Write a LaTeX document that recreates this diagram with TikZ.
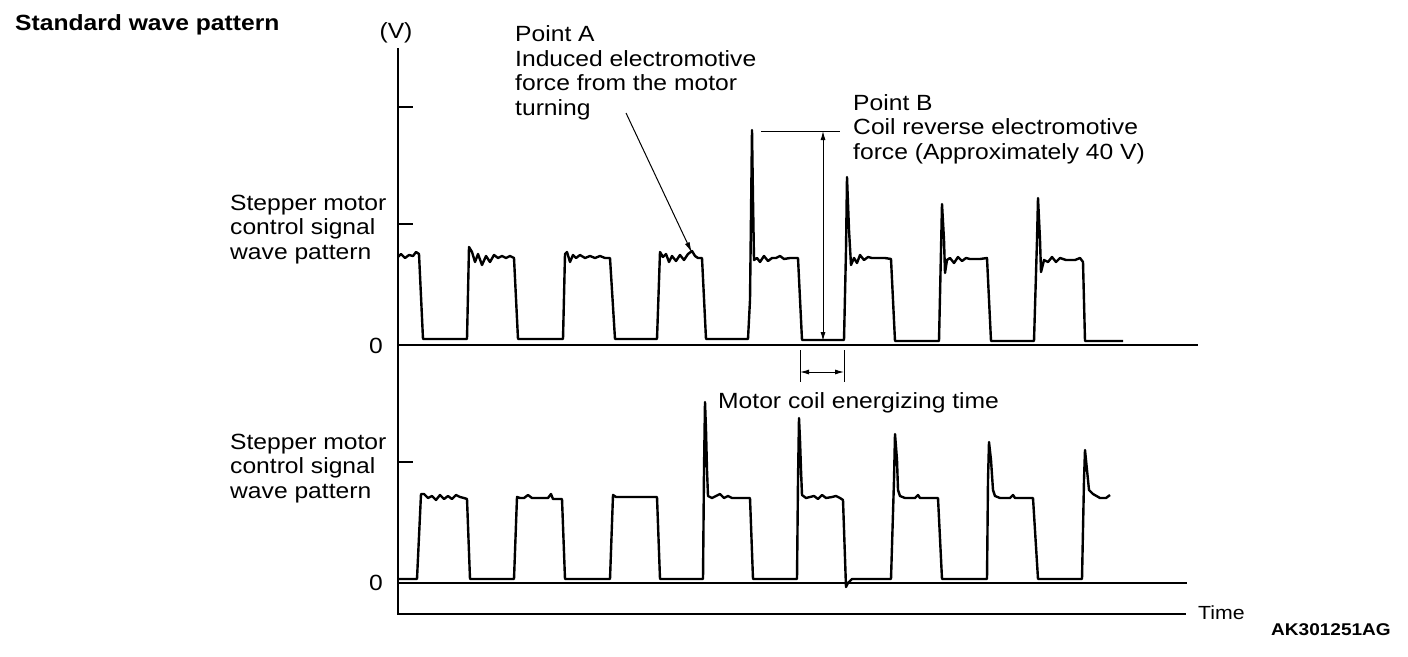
\documentclass[tikz,border=0pt]{standalone}
\usepackage{fontspec}
\setmainfont[FakeStretch=1.12]{Liberation Sans}
\usetikzlibrary{arrows.meta}
\begin{document}
\begin{tikzpicture}[x=1pt,y=-1pt,
  lbl/.style={inner sep=0pt,anchor=base west,align=left,font=\fontsize{22}{24.7}\selectfont},
  wave/.style={line width=2.4pt,line join=round},
  axis/.style={line width=2pt},
  thin/.style={line width=1pt},
  tip/.style={line width=1pt,{Latex[length=9pt,width=5pt]}-{Latex[length=9pt,width=5pt]}},
  onetip/.style={line width=1pt,-{Latex[length=11pt,width=5pt]}}]
\useasboundingbox (0,0) rectangle (1408,656);
\fill[white] (0,0) rectangle (1408,656);
% titles (base anchor = baseline of the last line)
\node[lbl,font=\bfseries\fontsize{22}{24.7}\selectfont] (title) at (15,30.5) {Standard wave pattern};
\node[inner sep=0pt,anchor=base,font=\fontsize{22}{24.7}\selectfont] (volt) at (396,38) {(V)};
\node[lbl] (lab1) at (230,259.4) {Stepper motor\\control signal\\wave pattern};
\node[lbl] (lab2) at (230,498.4) {Stepper motor\\control signal\\wave pattern};
\node[inner sep=0pt,anchor=base,font=\fontsize{22}{24.7}\selectfont] (zero1) at (376,353) {0};
\node[inner sep=0pt,anchor=base,font=\fontsize{22}{24.7}\selectfont] (zero2) at (376,590) {0};
\node[lbl] (pa) at (515,115.6) {Point A\\Induced electromotive\\force from the motor\\turning};
\node[lbl] (pb) at (853,159.4) {Point B\\Coil reverse electromotive\\force (Approximately 40 V)};
\node[lbl] (mc) at (718,408) {Motor coil energizing time};
\node[lbl,font=\fontsize{19}{20}\selectfont] (time) at (1198,619) {Time};
\node[lbl,font=\bfseries\fontsize{17}{20}\selectfont] (code) at (1271,635) {AK301251AG};
% axes
\draw[axis] (398,48) -- (398,614) -- (1186,614);
\draw[axis] (398,345) -- (1198,345);
\draw[axis] (398,583) -- (1187,583);
\draw[axis] (398,107) -- (413,107);
\draw[axis] (398,224) -- (413,224);
\draw[axis] (398,462) -- (413,462);
% top waveform
\draw[wave] (398,257) -- (401,254) -- (405,258) -- (409,255) -- (413,256) -- (416,252) -- (419,254) -- (423,339) -- (467,339)
 -- (469,247) -- (472,252) -- (475,262) -- (478,254) -- (482,265) -- (486,256) -- (490,262) -- (494,255) -- (498,258) -- (502,256) -- (506,258) -- (510,256) -- (514,258) -- (518,339) -- (563,339)
 -- (565,254) -- (567,252) -- (570,262) -- (573,255) -- (576,258) -- (580,255) -- (585,258) -- (590,256) -- (595,258) -- (600,256) -- (605,258) -- (610,258) -- (615,339) -- (657,339)
 -- (660,252) -- (663,257) -- (666,254) -- (669,262) -- (672,256) -- (676,261) -- (680,255) -- (684,260) -- (688,254) -- (692,251) -- (695,256) -- (698,258) -- (702,258) -- (706,339) -- (748,339)
 -- (750,300) -- (752,130) -- (753,200) -- (754,260) -- (757,258) -- (760,262) -- (764,256) -- (768,261) -- (772,258) -- (776,258) -- (780,256) -- (784,259) -- (790,258) -- (798,258) -- (802,340) -- (844,340)
 -- (846,250) -- (847,177) -- (849,230) -- (851,265) -- (854,258) -- (857,263) -- (860,255) -- (864,260) -- (868,257) -- (872,258) -- (885,258) -- (891,259) -- (895,341) -- (939,341)
 -- (941,250) -- (942,204) -- (944,240) -- (945,273) -- (947,260) -- (950,258) -- (954,263) -- (958,257) -- (962,261) -- (966,258) -- (970,259) -- (980,259) -- (987,258) -- (991,341) -- (1034,341)
 -- (1037,240) -- (1038,198) -- (1040,240) -- (1041,272) -- (1044,260) -- (1048,262) -- (1052,257) -- (1056,262) -- (1060,258) -- (1066,260) -- (1075,260) -- (1080,258) -- (1083,262) -- (1085,341) -- (1123,341);
% bottom waveform
\draw[wave] (398,579) -- (417,579) -- (421,494) -- (424,494) -- (428,498) -- (432,496) -- (436,500) -- (440,495) -- (444,499) -- (448,496) -- (452,499) -- (456,495) -- (460,497) -- (464,498) -- (467,499) -- (470,579) -- (514,579)
 -- (517,497) -- (520,498) -- (524,498) -- (528,495) -- (532,498) -- (548,498) -- (551,494) -- (553,499) -- (562,499) -- (565,579) -- (610,579)
 -- (613,495) -- (616,497) -- (657,497) -- (660,579) -- (703,579)
 -- (704,470) -- (705,402) -- (706,430) -- (707,470) -- (708,496) -- (712,498) -- (716,496) -- (720,494) -- (724,498) -- (728,496) -- (732,498) -- (750,498) -- (753,579) -- (797,579)
 -- (798,480) -- (799,418) -- (800,440) -- (801,470) -- (802,495) -- (806,498) -- (810,497) -- (814,496) -- (818,499) -- (822,495) -- (826,498) -- (832,497) -- (836,496) -- (840,498) -- (843,500) -- (846,587) -- (848,583) -- (852,579) -- (891,579)
 -- (894,480) -- (895,434) -- (897,460) -- (898,490) -- (900,496) -- (905,498) -- (915,498) -- (918,495) -- (920,498) -- (938,498) -- (942,579) -- (987,579)
 -- (988,480) -- (989,442) -- (991,460) -- (993,490) -- (995,496) -- (1000,498) -- (1010,498) -- (1013,495) -- (1015,498) -- (1033,498) -- (1038,579) -- (1082,579)
 -- (1084,480) -- (1085,450) -- (1087,470) -- (1089,490) -- (1093,494) -- (1100,498) -- (1106,498) -- (1110,495);
% annotations
\coordinate (aTail) at (626,113);
\coordinate (aHead) at (692,253);
\draw[onetip] (aTail) -- (aHead);
\coordinate (bL) at (761,131);
\coordinate (bR) at (840,131);
\coordinate (bTop) at (823,131);
\coordinate (bBot) at (823,341);
\draw[thin] (bL) -- (bR);
\draw[tip] (bTop) -- (bBot);
\coordinate (e1t) at (800,350);
\coordinate (e1b) at (800,382);
\coordinate (e2t) at (844,350);
\coordinate (e2b) at (844,382);
\draw[thin] (e1t) -- (e1b);
\draw[thin] (e2t) -- (e2b);
\coordinate (e1m) at (800,372);
\coordinate (e2m) at (844,372);
\draw[tip] (e1m) -- (e2m);
\end{tikzpicture}
\end{document}
